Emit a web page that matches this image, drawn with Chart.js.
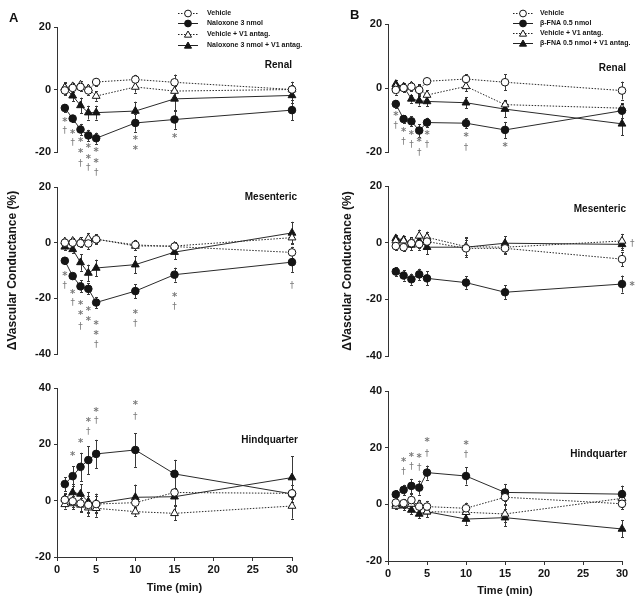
<!DOCTYPE html>
<html><head><meta charset="utf-8">
<script src="https://cdn.jsdelivr.net/npm/chart.js@4.4.1/dist/chart.umd.min.js"></script>
<style>
html,body{margin:0;padding:0;background:#fff;}
body{width:640px;height:601px;position:relative;overflow:hidden;font-family:"Liberation Sans",Arial,sans-serif;}
canvas{position:absolute;}
.lbl{position:absolute;font-weight:bold;color:#111;white-space:nowrap;line-height:1;}
</style></head><body>
<canvas id="aR"></canvas><canvas id="aM"></canvas><canvas id="aH"></canvas>
<canvas id="bR"></canvas><canvas id="bM"></canvas><canvas id="bH"></canvas>
<div class="lbl" style="left:9px;top:11px;font-size:13px;">A</div>
<div class="lbl" style="left:350px;top:8px;font-size:13px;">B</div>
<div class="lbl" id="lAR" style="right:348px;top:60px;font-size:10px;"></div>
<div class="lbl" id="lAM" style="right:343px;top:192px;font-size:10px;"></div>
<div class="lbl" id="lAH" style="right:342px;top:435px;font-size:10px;"></div>
<div class="lbl" id="lBR" style="right:14px;top:63px;font-size:10px;"></div>
<div class="lbl" id="lBM" style="right:14px;top:204px;font-size:10px;"></div>
<div class="lbl" id="lBH" style="right:13px;top:449px;font-size:10px;"></div>
<script>
// ---------------- data ----------------
const times = [1, 2, 3, 4, 5, 10, 15, 30];
const xTicks = [0, 5, 10, 15, 20, 25, 30];
const renalTicks = [-20, 0, 20];
const mesTicks = [-40, -20, 0, 20];
const hindTicks = [-20, 0, 20, 40];
const regions = ['Renal', 'Mesenteric', 'Hindquarter'];
const seriesA = ['Vehicle', 'Naloxone 3 nmol', 'Vehicle + V1 antag.', 'Naloxone 3 nmol + V1 antag.'];
const seriesB = ['Vehicle', 'β-FNA 0.5 nmol', 'Vehicle + V1 antag.', 'β-FNA 0.5 nmol + V1 antag.'];
const yTitle = 'ΔVascular Conductance (%)';
const xTitle = 'Time (min)';

// Panel A — Renal
const aRenVeh   = [-0.3, 0.5, 0.8, -0.3, 2.4, 3.2, 2.3, 0.0];
const aRenNal   = [-5.9, -9.3, -12.8, -14.7, -15.6, -10.7, -9.6, -6.6];
const aRenVehV1 = [0.6, 1.0, 1.5, 0.3, -2.1, 0.8, -0.5, 0.0];
const aRenNalV1 = [0.5, -2.0, -5.1, -7.4, -7.4, -6.9, -3.0, -1.9];
const aRenVehE   = [1.5, 1.2, 1.2, 1.5, 1.2, 1.5, 2.5, 2.5];
const aRenNalE   = [1.2, 1.2, 1.8, 1.8, 1.8, 2.8, 3.0, 3.3];
const aRenVehV1E = [1.5, 1.2, 1.2, 1.2, 1.5, 1.8, 2.0, 1.5];
const aRenNalV1E = [1.8, 1.8, 2.5, 2.2, 2.2, 3.0, 4.0, 2.5];
const aRenMarks = [[1,-9.8,'*'],[1,-13.3,'†'],[2,-13.6,'*'],[2,-17,'†'],[3,-16.3,'*'],[3,-19.9,'*'],[3,-23.6,'†'],
  [4,-18.3,'*'],[4,-21.6,'*'],[4,-25,'†'],[5,-19.5,'*'],[5,-22.9,'*'],[5,-26.6,'†'],[10,-15.5,'*'],[10,-18.9,'*'],[15,-15.1,'*']];

// Panel A — Mesenteric
const aMesVeh   = [0.0, 0.0, -0.2, -0.3, 1.2, -0.8, -1.4, -3.5];
const aMesNal   = [-6.5, -12.0, -15.7, -16.6, -21.5, -17.4, -11.5, -7.0];
const aMesVehV1 = [0.4, 0.6, 0.4, 1.5, 1.3, -1.2, -1.2, 1.8];
const aMesNalV1 = [-1.5, -2.4, -7.1, -10.9, -9.1, -7.9, -3.4, 3.5];
const aMesVehE   = [1.0, 1.0, 1.5, 2.0, 1.8, 1.8, 1.5, 2.0];
const aMesNalE   = [1.2, 1.2, 2.2, 2.0, 2.0, 2.5, 2.5, 3.5];
const aMesVehV1E = [1.0, 1.2, 1.5, 2.0, 1.5, 1.5, 1.0, 2.0];
const aMesNalV1E = [1.0, 1.2, 3.0, 3.0, 3.0, 3.0, 2.5, 4.0];
const aMesMarks = [[1,-11.4,'*'],[1,-15.5,'†'],[2,-17.9,'*'],[2,-21.4,'†'],[3,-22,'*'],[3,-25.5,'*'],[3,-30,'†'],
  [4,-24,'*'],[4,-27.6,'*'],[5,-28.9,'*'],[5,-32.6,'*'],[5,-36.7,'†'],[10,-25.1,'*'],[10,-29.2,'†'],
  [15,-18.9,'*'],[15,-23,'†'],[30,-15.3,'†']];

// Panel A — Hindquarter
const aHinVeh   = [0.3, -0.2, -1.0, -1.5, -1.2, -0.7, 2.9, 2.6];
const aHinNal   = [5.9, 8.7, 12.0, 14.4, 16.6, 18.0, 9.5, 2.4];
const aHinVehV1 = [-1.3, -1.0, -1.5, -2.5, -2.7, -3.9, -4.5, -1.9];
const aHinNalV1 = [0.6, 2.9, 2.4, -0.4, -1.0, 1.2, 1.4, 8.2];
const aHinVehE   = [2.0, 2.0, 2.5, 3.0, 3.0, 2.0, 1.5, 1.5];
const aHinNalE   = [2.5, 3.5, 5.0, 5.0, 5.0, 6.0, 5.0, 3.0];
const aHinVehV1E = [1.5, 2.0, 2.5, 3.0, 3.0, 1.5, 2.5, 4.5];
const aHinNalV1E = [2.0, 3.0, 3.5, 3.5, 3.5, 4.5, 3.0, 7.5];
const aHinMarks = [[2,16.5,'*'],[3,21,'*'],[4,28.4,'*'],[4,24.5,'†'],[5,32,'*'],[5,28.3,'†'],[10,34.7,'*'],[10,29.9,'†']];

// Panel B — Renal
const bRenVeh   = [-0.6, 0.0, 0.4, -0.6, 2.1, 2.8, 1.8, -0.8];
const bRenFna   = [-5.0, -9.7, -10.4, -13.3, -10.8, -11.0, -13.1, -7.1];
const bRenVehV1 = [0.4, 0.0, 0.7, -0.3, -2.2, 0.5, -5.2, -6.3];
const bRenFnaV1 = [1.2, 0.4, -3.4, -4.0, -4.2, -4.6, -6.6, -11.2];
const bRenVehE   = [1.5, 1.2, 1.2, 1.5, 1.0, 1.5, 2.5, 2.8];
const bRenFnaE   = [1.2, 1.2, 1.5, 2.0, 1.5, 1.5, 2.5, 2.2];
const bRenVehV1E = [1.2, 1.2, 1.2, 1.5, 1.5, 1.5, 1.5, 1.5];
const bRenFnaV1E = [1.2, 1.2, 1.2, 1.5, 1.5, 1.8, 2.5, 3.5];
const bRenMarks = [[1,-8.1,'*'],[1,-11.8,'†'],[2,-13.1,'*'],[2,-16.7,'†'],[3,-14.2,'*'],[3,-17.7,'†'],[4,-16.5,'*'],
  [4,-20.1,'†'],[5,-14.2,'*'],[5,-17.7,'†'],[10,-14.9,'*'],[10,-18.5,'†'],[15,-18,'*']];

// Panel B — Mesenteric
const bMesVeh   = [-1.2, -1.6, -0.2, -0.5, 0.4, -2.0, -2.0, -5.8];
const bMesFna   = [-10.2, -11.6, -12.9, -11.2, -12.6, -14.1, -17.5, -14.6];
const bMesVehV1 = [0.7, 0.7, 0.4, 2.4, 1.9, -1.4, -1.6, 0.6];
const bMesFnaV1 = [1.5, 1.0, -0.8, 0.6, -1.6, -1.6, -0.2, -0.6];
const bMesVehE   = [1.5, 1.5, 1.5, 2.0, 2.5, 3.0, 2.0, 2.5];
const bMesFnaE   = [1.5, 1.8, 2.0, 2.0, 2.5, 2.2, 2.5, 3.0];
const bMesVehV1E = [1.0, 1.0, 1.5, 2.2, 2.0, 3.0, 2.0, 2.5];
const bMesFnaV1E = [1.2, 1.5, 1.8, 2.5, 2.5, 3.5, 2.5, 2.0];
const bMesMarks = [[31.3,-0.5,'†'],[31.3,-14.8,'*']];

// Panel B — Hindquarter
const bHinVeh   = [0.6, 0.4, 1.5, -0.8, -0.8, -1.4, 2.5, 0.2];
const bHinFna   = [3.5, 5.1, 6.5, 5.9, 11.2, 10.0, 4.2, 3.6];
const bHinVehV1 = [-0.6, -0.2, 0.1, 0.0, -2.6, -2.8, -3.4, 2.1];
const bHinFnaV1 = [0.0, -0.5, -2.0, -3.4, -2.6, -5.2, -4.7, -8.7];
const bHinVehE   = [1.5, 1.5, 2.0, 2.0, 2.0, 2.0, 2.5, 2.0];
const bHinFnaE   = [1.5, 1.8, 2.5, 2.5, 2.5, 3.0, 3.0, 3.0];
const bHinVehV1E = [1.2, 1.2, 1.5, 1.5, 2.0, 2.5, 3.0, 3.0];
const bHinFnaV1E = [1.5, 1.5, 1.5, 1.5, 2.0, 2.0, 3.0, 3.0];
const bHinMarks = [[2,15.4,'*'],[2,11.5,'†'],[3,17.2,'*'],[3,13.3,'†'],[4,16.8,'*'],[4,13.1,'†'],[5,22.4,'*'],[5,18,'†'],[10,21.5,'*'],[10,17.6,'†']];

// ---------------- styling & drawing ----------------
const INK = '#151515';
const STY = [
  {ps:'circle',   fill:'#fff', dash:[1.5,1.5], r:3.8},
  {ps:'circle',   fill:INK,    dash:[],        r:3.8},
  {ps:'triangle', fill:'#fff', dash:[1.5,1.5], r:4.5},
  {ps:'triangle', fill:INK,    dash:[],        r:4.5}
];
const FONT = '"Liberation Sans", Arial, sans-serif';

function drawMarker(ctx, st, x, y){
  ctx.beginPath();
  if (st.ps === 'circle') ctx.arc(x, y, st.r, 0, Math.PI*2);
  else {
    const r = st.r;
    for (let k=0;k<3;k++){ const a = k*2*Math.PI/3; const px = x + Math.sin(a)*r, py = y - Math.cos(a)*r + r*0.15;
      if(k===0) ctx.moveTo(px,py); else ctx.lineTo(px,py); }
    ctx.closePath();
  }
  ctx.fillStyle = st.fill; ctx.fill();
  ctx.lineWidth = 1; ctx.strokeStyle = INK; ctx.stroke();
}

const errPlugin = {
  id:'errbars',
  beforeDatasetsDraw(chart){
    const {ctx} = chart; const xs = chart.scales.x, ys = chart.scales.y;
    ctx.save(); ctx.strokeStyle = '#3a3a3a'; ctx.lineWidth = 1; ctx.setLineDash([]);
    chart.data.datasets.forEach(ds => {
      ds.data.forEach((p, i) => {
        const e = ds.errors[i];
        const px = Math.round(xs.getPixelForValue(p.x)) + 0.5;
        const y1 = ys.getPixelForValue(p.y + e), y2 = ys.getPixelForValue(p.y - e);
        ctx.beginPath();
        ctx.moveTo(px, y1); ctx.lineTo(px, y2);
        ctx.moveTo(px-1.5, Math.round(y1)+0.5); ctx.lineTo(px+1.5, Math.round(y1)+0.5);
        ctx.moveTo(px-1.5, Math.round(y2)+0.5); ctx.lineTo(px+1.5, Math.round(y2)+0.5);
        ctx.stroke();
      });
    });
    ctx.restore();
  }
};

function markPlugin(marks){
  return { id:'sig', afterDatasetsDraw(chart){
    const {ctx} = chart; const xs = chart.scales.x, ys = chart.scales.y;
    ctx.save(); ctx.fillStyle = '#7a7a7a'; ctx.textAlign = 'center'; ctx.textBaseline = 'middle';
    marks.forEach(m => {
      const px = xs.getPixelForValue(m[0]), py = ys.getPixelForValue(m[1]);
      if (m[2] === '*') { ctx.font = 'bold 10px "DejaVu Sans"'; ctx.fillText('*', px, py + 2); }
      else { ctx.font = '9px "DejaVu Sans"'; ctx.fillText('†', px, py); }
    });
    ctx.restore();
  }};
}

function legendPlugin(labels, x0, x1, tx, rows){
  return { id:'lg', afterDraw(chart){
    const ctx = chart.ctx; ctx.save();
    labels.forEach((lab, i) => {
      const st = Object.assign({}, STY[i], {r: STY[i].r - 0.4});
      const y = rows[i] + 0.5;
      ctx.beginPath(); ctx.setLineDash(st.dash); ctx.strokeStyle = '#222'; ctx.lineWidth = 1;
      ctx.moveTo(x0, y); ctx.lineTo(x1, y); ctx.stroke(); ctx.setLineDash([]);
      drawMarker(ctx, st, (x0+x1)/2, y);
      ctx.fillStyle = INK; ctx.font = 'bold 7px ' + FONT; ctx.textBaseline = 'middle'; ctx.textAlign = 'left';
      ctx.fillText(lab, tx, y);
    });
    ctx.restore();
  }};
}

function makeDatasets(vals, errs){
  return vals.map((v, i) => ({
    data: times.map((t, k) => ({x:t, y:v[k]})),
    errors: errs[i],
    borderColor: '#2a2a2a', borderWidth: 1, borderDash: STY[i].dash,
    pointStyle: STY[i].ps, pointRadius: STY[i].r, pointBorderWidth: 1,
    pointBackgroundColor: STY[i].fill, pointBorderColor: INK,
    tension: 0, clip: false, order: i
  }));
}

function makePanel(o){
  const cv = document.getElementById(o.id);
  cv.width = o.cw; cv.height = o.ch;
  cv.style.left = o.cl + 'px'; cv.style.top = o.ct + 'px';
  cv.style.width = o.cw + 'px'; cv.style.height = o.ch + 'px';
  const plugins = [errPlugin, markPlugin(o.marks)];
  if (o.legend) plugins.push(legendPlugin(o.legend, o.lx0, o.lx1, o.ltx, o.lrows));
  const tickFont = {family: FONT, size: 11, weight: 'bold'};
  new Chart(cv, {
    type: 'line',
    data: { datasets: makeDatasets(o.vals, o.errs) },
    plugins,
    options: {
      responsive: false, animation: false, devicePixelRatio: 1,
      events: [],
      layout: { padding: { left: 0, right: o.pr, top: o.pt, bottom: o.pb } },
      plugins: { legend: {display:false}, tooltip: {enabled:false} },
      scales: {
        x: {
          type: 'linear', min: 0, max: 30, display: !!o.bottom,
          afterBuildTicks: s => { s.ticks = xTicks.map(v => ({value: v})); },
          ticks: { font: tickFont, color: INK, padding: 2, maxRotation: 0, autoSkip: false },
          grid: { drawOnChartArea: false, tickLength: 4, color: '#333', lineWidth: 1 },
          border: { color: '#333', width: 1 },
          title: { display: !!o.bottom, text: xTitle, color: INK, font: {family: FONT, size: 11, weight: 'bold'}, padding: {top: 0, bottom: o.xtp || 0} },
          afterFit: s => { if (o.bottom) s.height = o.xh; }
        },
        y: {
          type: 'linear', min: o.ymin, max: o.ymax,
          afterBuildTicks: s => { s.ticks = o.yticks.map(v => ({value: v})); },
          ticks: { font: tickFont, color: INK, padding: 3 },
          grid: { drawOnChartArea: false, tickLength: 3, color: '#333', lineWidth: 1 },
          border: { color: '#333', width: 1 },
          title: { display: !!o.ytitle, text: yTitle, color: INK, font: {family: FONT, size: 12, weight: 'bold'}, padding: {top: o.ytp || 0, bottom: 0} },
          afterFit: s => { s.width = o.yw; }
        }
      }
    }
  });
}

// column A
makePanel({id:'aR', cl:0, ct:0, cw:320, ch:185, yw:57, pr:28, pt:27, pb:33, ymin:-20, ymax:20, yticks:renalTicks,
  vals:[aRenVeh, aRenNal, aRenVehV1, aRenNalV1], errs:[aRenVehE, aRenNalE, aRenVehV1E, aRenNalV1E], marks:aRenMarks,
  legend:seriesA, lx0:178, lx1:198, ltx:207, lrows:[13, 23, 34, 45]});
makePanel({id:'aM', cl:0, ct:160, cw:320, ch:215, yw:57, pr:28, pt:27, pb:21, ymin:-40, ymax:20, yticks:mesTicks,
  vals:[aMesVeh, aMesNal, aMesVehV1, aMesNalV1], errs:[aMesVehE, aMesNalE, aMesVehV1E, aMesNalV1E], marks:aMesMarks,
  ytitle:true, ytp:5});
makePanel({id:'aH', cl:0, ct:360, cw:320, ch:241, yw:57, pr:28, pt:28, pb:0, ymin:-20, ymax:40, yticks:hindTicks,
  vals:[aHinVeh, aHinNal, aHinVehV1, aHinNalV1], errs:[aHinVehE, aHinNalE, aHinVehV1E, aHinNalV1E], marks:aHinMarks,
  bottom:true, xh:44, xtp:6});
// column B
makePanel({id:'bR', cl:320, ct:0, cw:320, ch:185, yw:68, pr:18, pt:24, pb:33, ymin:-20, ymax:20, yticks:renalTicks,
  vals:[bRenVeh, bRenFna, bRenVehV1, bRenFnaV1], errs:[bRenVehE, bRenFnaE, bRenVehV1E, bRenFnaV1E], marks:bRenMarks,
  legend:seriesB, lx0:193, lx1:213, ltx:220, lrows:[13, 23, 33, 43]});
makePanel({id:'bM', cl:320, ct:160, cw:320, ch:215, yw:68, pr:18, pt:26, pb:19, ymin:-40, ymax:20, yticks:mesTicks,
  vals:[bMesVeh, bMesFna, bMesVehV1, bMesFnaV1], errs:[bMesVehE, bMesFnaE, bMesVehV1E, bMesFnaV1E], marks:bMesMarks,
  ytitle:true, ytp:20});
makePanel({id:'bH', cl:320, ct:360, cw:320, ch:241, yw:68, pr:18, pt:31, pb:0, ymin:-20, ymax:40, yticks:hindTicks,
  vals:[bHinVeh, bHinFna, bHinVehV1, bHinFnaV1], errs:[bHinVehE, bHinFnaE, bHinVehV1E, bHinFnaV1E], marks:bHinMarks,
  bottom:true, xh:40, xtp:3});

['lAR','lAM','lAH'].forEach((id, i) => document.getElementById(id).textContent = regions[i]);
['lBR','lBM','lBH'].forEach((id, i) => document.getElementById(id).textContent = regions[i]);
</script>
</body></html>
